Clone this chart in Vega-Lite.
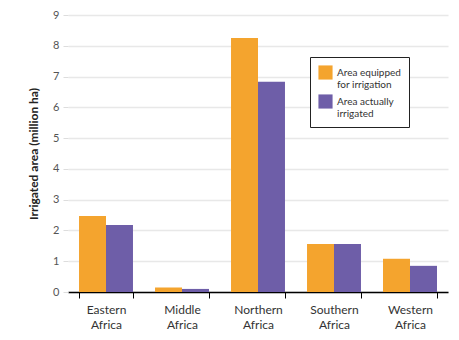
{
  "$schema": "https://vega.github.io/schema/vega-lite/v6.json",
  "width": 380,
  "height": 277,
  "autosize": {"type": "none"},
  "padding": {"left": 68, "top": 15, "right": 11, "bottom": 48},
  "background": "white",
  "config": {
    "font": "Lato",
    "view": {"stroke": null}
  },
  "data": {
    "values": [
      {"region": "Eastern Africa", "series": "Area equipped for irrigation", "value": 2.47},
      {"region": "Eastern Africa", "series": "Area actually irrigated", "value": 2.18},
      {"region": "Middle Africa", "series": "Area equipped for irrigation", "value": 0.15},
      {"region": "Middle Africa", "series": "Area actually irrigated", "value": 0.1},
      {"region": "Northern Africa", "series": "Area equipped for irrigation", "value": 8.25},
      {"region": "Northern Africa", "series": "Area actually irrigated", "value": 6.83},
      {"region": "Southern Africa", "series": "Area equipped for irrigation", "value": 1.56},
      {"region": "Southern Africa", "series": "Area actually irrigated", "value": 1.56},
      {"region": "Western Africa", "series": "Area equipped for irrigation", "value": 1.08},
      {"region": "Western Africa", "series": "Area actually irrigated", "value": 0.85}
    ]
  },
  "mark": {"type": "bar"},
  "encoding": {
    "x": {
      "field": "region",
      "type": "nominal",
      "sort": null,
      "scale": {"paddingInner": 0.29, "paddingOuter": 0.145},
      "axis": {
        "title": null,
        "labelAngle": 0,
        "labelExpr": "split(datum.label, ' ')",
        "labelFontSize": 12,
        "labelColor": "#333333",
        "labelPadding": 6,
        "labelLineHeight": 15,
        "tickBand": "extent",
        "tickColor": "#000000",
        "tickSize": 6,
        "domainColor": "#000000",
        "domainWidth": 1.5,
        "grid": false
      }
    },
    "xOffset": {
      "field": "series",
      "type": "nominal",
      "sort": ["Area equipped for irrigation", "Area actually irrigated"],
      "scale": {"paddingInner": 0, "paddingOuter": 0}
    },
    "y": {
      "field": "value",
      "type": "quantitative",
      "scale": {"domain": [0, 9], "nice": false},
      "axis": {
        "title": "Irrigated area (million ha)",
        "titleFontSize": 12,
        "titleFontWeight": "bold",
        "titleColor": "#222222",
        "titlePadding": 12,
        "values": [0, 1, 2, 3, 4, 5, 6, 7, 8, 9],
        "labelOverlap": false,
        "labelFontSize": 11,
        "labelColor": "#555555",
        "labelPadding": 4,
        "domain": false,
        "tickColor": "#dddddd",
        "tickSize": 5,
        "gridColor": "#e8e8e8",
        "gridWidth": 1.5
      }
    },
    "color": {
      "field": "series",
      "type": "nominal",
      "sort": ["Area equipped for irrigation", "Area actually irrigated"],
      "scale": {
        "domain": ["Area equipped for irrigation", "Area actually irrigated"],
        "range": ["#F4A42E", "#6E5EA8"]
      },
      "legend": {
        "title": null,
        "orient": "none",
        "legendX": 242,
        "legendY": 42,
        "strokeColor": "#222222",
        "fillColor": "white",
        "padding": 8,
        "symbolType": "square",
        "symbolSize": 200,
        "symbolStrokeWidth": 0,
        "labelFontSize": 10,
        "labelColor": "#333333",
        "labelLineHeight": 11,
        "rowPadding": 4,
        "labelExpr": "datum.label == 'Area equipped for irrigation' ? ['Area equipped', 'for irrigation'] : ['Area actually', 'irrigated']"
      }
    }
  }
}
